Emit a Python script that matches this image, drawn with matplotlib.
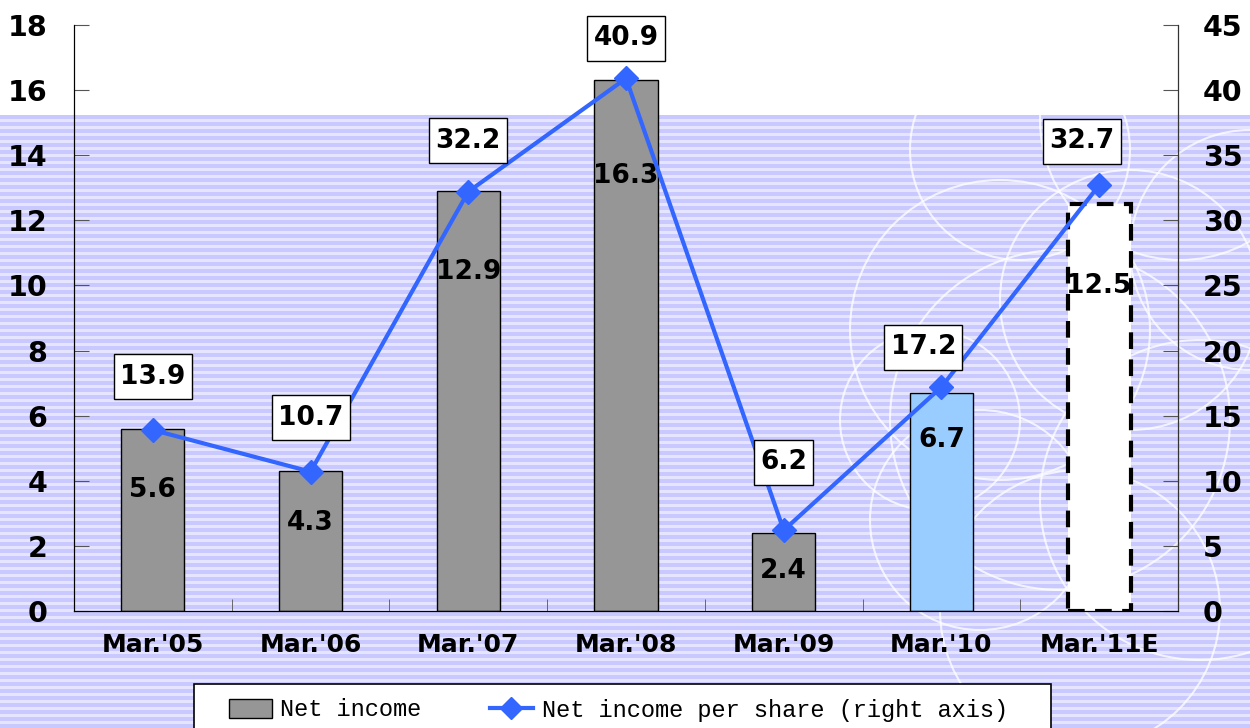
import matplotlib.pyplot as plt
import matplotlib.patches as mpatches
from matplotlib.path import Path
import numpy as np

# data
years = ["Mar.'05", "Mar.'06", "Mar.'07", "Mar.'08", "Mar.'09", "Mar.'10", "Mar.'11E"]
net_income = [5.6, 4.3, 12.9, 16.3, 2.4, 6.7, 12.5]
eps = [13.9, 10.7, 32.2, 40.9, 6.2, 17.2, 32.7]

# layout of the value labels
bar_label_y = [3.72, 2.70, 10.41, 13.36, 1.23, 5.25, 9.98]
eps_dx = [0, 0, 0, 0, 0, -18, -17]
eps_dy = [53, 54, 51, 40, 68, 40, 44]

W, H = 1250, 728
fig = plt.figure(figsize=(12.5, 7.28), dpi=100)

# striped background
bg = fig.add_axes([0, 0, 1, 1], zorder=-10)
rows = np.ones((H, 1, 3))
lav = np.array([0.79, 0.79, 1.0])
pale = np.array([0.90, 0.90, 1.0])
for r in range(115, H):
    k = (r - 115) % 7
    rows[r, 0] = lav if k < 4 else pale
bg.imshow(rows, aspect='auto', extent=(0, W, H, 0))
# white swirl circles on the right
for (cx, cy, rad) in [(1000, 330, 150), (1060, 420, 170), (1130, 300, 130), (1200, 500, 160),
                      (980, 520, 110), (1250, 250, 120), (1080, 610, 140), (930, 420, 90),
                      (1180, 120, 140), (1020, 150, 110)]:
    bg.add_patch(mpatches.Circle((cx, cy), rad, fill=False, ec='white', lw=1.5, alpha=0.75))
bg.set_xlim(0, W)
bg.set_ylim(H, 0)
bg.axis('off')


def label_box(x0, y0, width, height, mutation_size):
    px = 0.24 * mutation_size
    py = 0.36 * mutation_size
    return Path([(x0 - px, y0 - py), (x0 + width + px, y0 - py),
                 (x0 + width + px, y0 + height + py), (x0 - px, y0 + height + py),
                 (x0 - px, y0 - py)], closed=True)


ax = fig.add_axes([74 / W, 1 - 611 / H, (1178 - 74) / W, (611 - 25) / H])
ax.patch.set_alpha(0)
ax2 = ax.twinx()

x = np.arange(len(years))
colors = ['#969696'] * 5 + ['#99CCFF', 'white']
bars = ax.bar(x, net_income, width=0.4, color=colors, edgecolor='black', linewidth=1, zorder=2)
bars[-1].set_linestyle((0, (4, 2.5)))
bars[-1].set_linewidth(3)

for i, v in enumerate(net_income):
    ax.text(x[i], bar_label_y[i], f'{v:.1f}', ha='center', va='center',
            fontsize=19, fontweight='bold', zorder=5)

ax2.plot(x, eps, color='#3366FF', lw=3, marker='D', markersize=12, zorder=3)
for i, v in enumerate(eps):
    ax2.annotate(f'{v:.1f}', (x[i], v), xytext=(eps_dx[i], eps_dy[i]), textcoords='offset pixels',
                 ha='center', va='center', fontsize=19, fontweight='bold', zorder=6,
                 bbox=dict(boxstyle=label_box, fc='white', ec='black', lw=1))

ax.set_xlim(-0.5, len(years) - 0.5)
ax.set_ylim(0, 18)
ax.set_yticks(range(0, 19, 2))
ax2.set_ylim(0, 45)
ax2.set_yticks(range(0, 46, 5))

ax.set_xticks(x)
ax.set_xticklabels(years, fontsize=18, fontweight='bold')
ax.set_xticks(np.arange(0.5, len(years) - 1, 1), minor=True)
ax.tick_params(axis='x', which='major', length=0, pad=16)
ax.tick_params(axis='x', which='minor', direction='in', length=9, color='#555555')
ax.tick_params(axis='y', direction='in', length=11, color='#555555', labelsize=20.5, pad=19)
ax2.tick_params(axis='y', direction='in', length=11, color='#555555', labelsize=20.5, pad=18)
for lbl in ax.get_yticklabels() + ax2.get_yticklabels():
    lbl.set_fontweight('bold')

for a in (ax, ax2):
    a.spines['top'].set_visible(False)
ax.spines['left'].set_color('black')
ax2.spines['right'].set_color('#333333')

# legend with a hand-placed frame
fig.patches.append(mpatches.Rectangle((194 / W, -0.01), (1051 - 194) / W, 0.01 + (728 - 684) / H,
                                      transform=fig.transFigure, fc='white', ec='black', lw=1.2,
                                      zorder=1))
h1 = mpatches.Patch(facecolor='#969696', edgecolor='black', label='Net income')
h2 = plt.Line2D([], [], color='#3366FF', lw=3, marker='D', markersize=11,
                label='Net income per share (right axis)')
leg = fig.legend(handles=[h1, h2], loc='center left', bbox_to_anchor=(229 / W, 1 - 710 / H),
                 ncol=2, frameon=False, borderaxespad=0, borderpad=0,
                 prop={'family': 'Liberation Mono', 'size': 17},
                 handlelength=1.8, handleheight=0.85, handletextpad=0.38, columnspacing=2.9)
leg.set_zorder(2)

plt.savefig('out.png', dpi=100)
plt.close()
